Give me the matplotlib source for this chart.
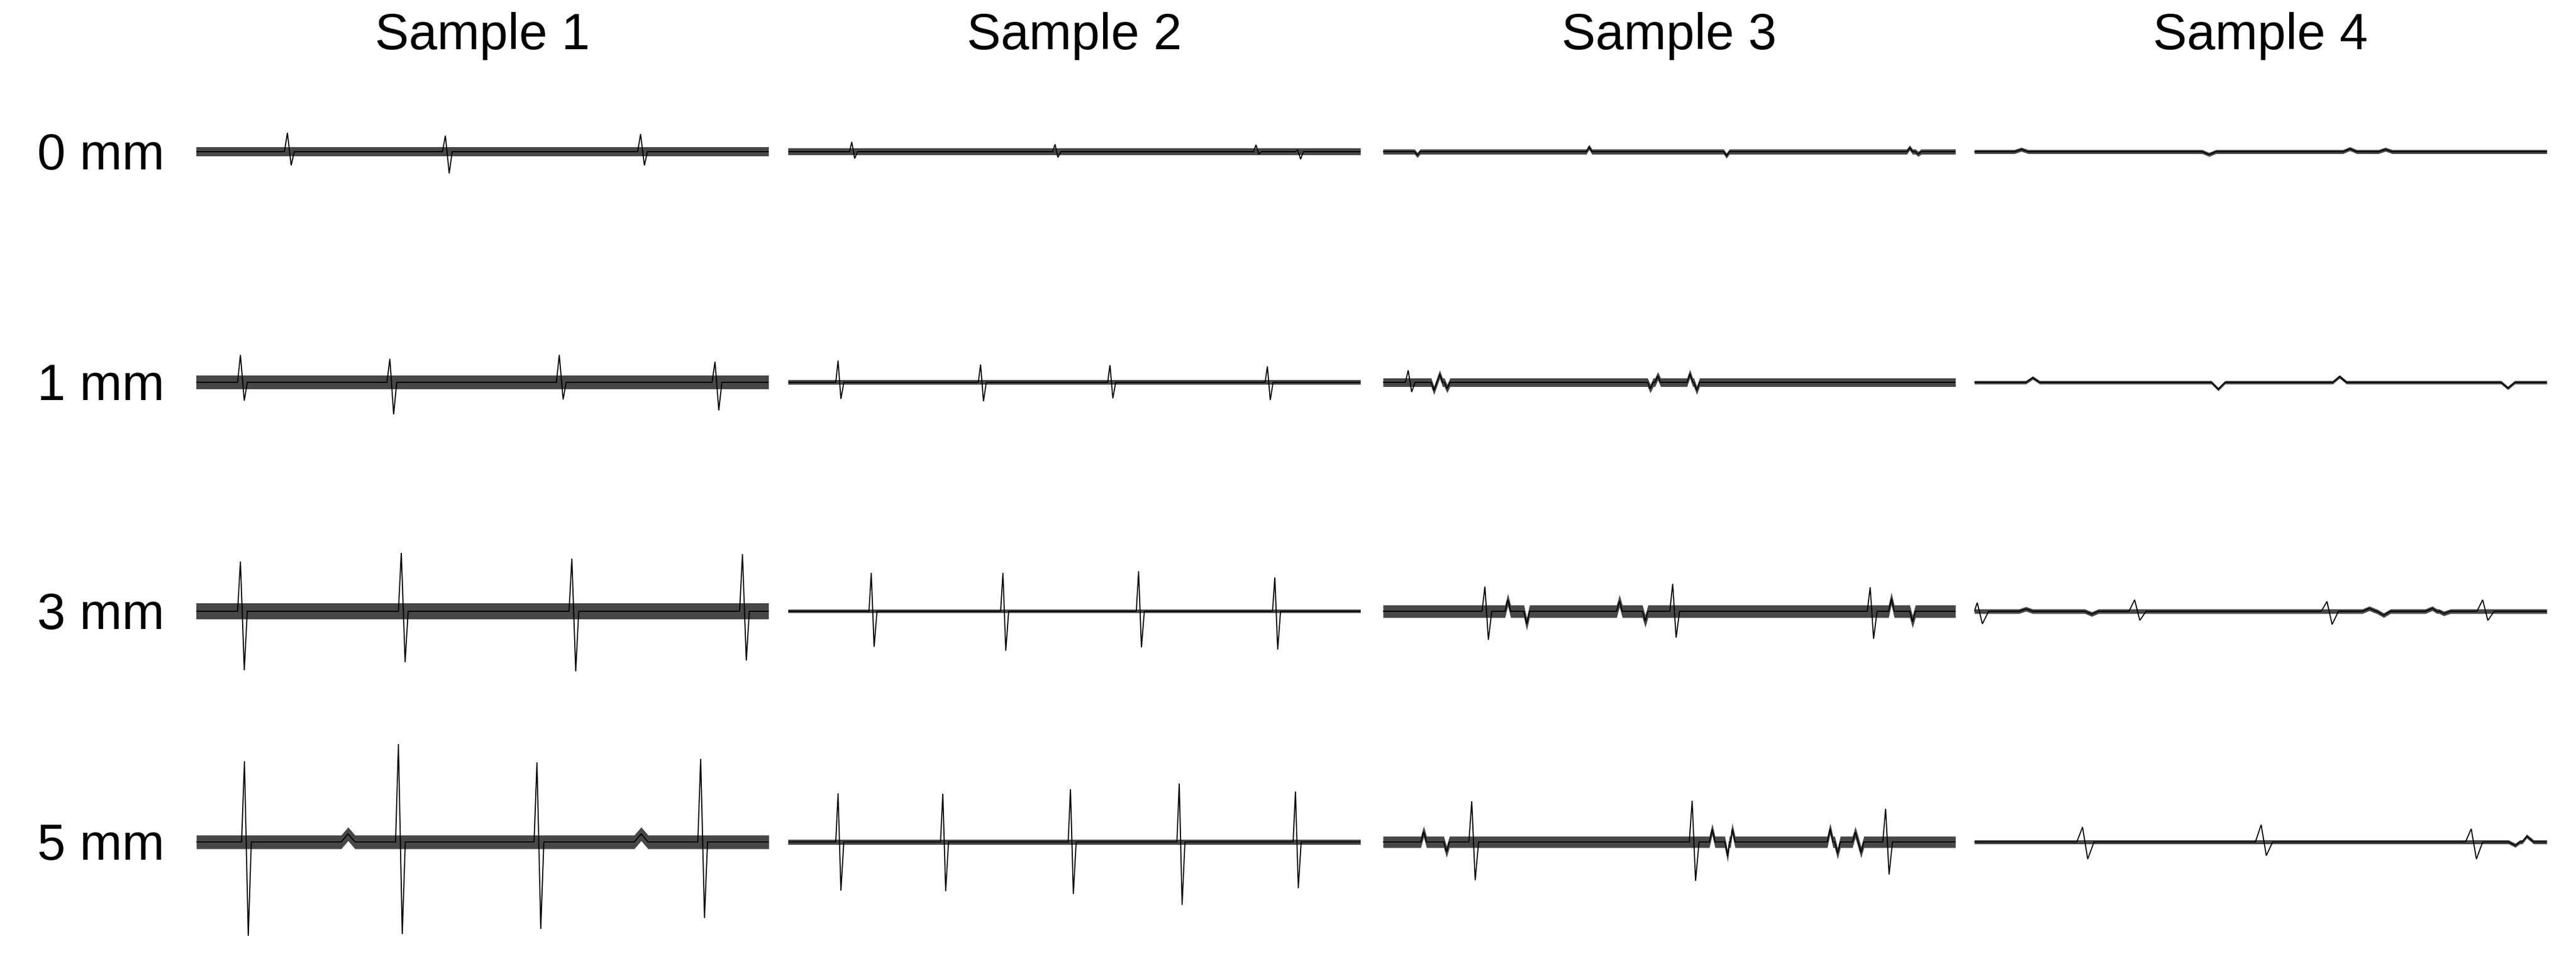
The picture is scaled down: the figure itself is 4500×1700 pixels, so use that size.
import matplotlib
matplotlib.use("Agg")
import matplotlib.pyplot as plt

plt.rcParams['font.family'] = ['Liberation Sans', 'DejaVu Sans']

# ---------------- data (time in s over a 10 s window, amplitude in a.u.) ----------------
samples = ["Sample 1", "Sample 2", "Sample 3", "Sample 4"]
depths = ["0 mm", "1 mm", "3 mm", "5 mm"]

# biphasic spikes: time, positive peak, negative peak (one list per sample)
spike_t_0mm = [[1.59, 4.35, 7.76], [1.11, 4.66, 8.17, 8.90], [], []]
spike_up_0mm = [[33, 28, 31], [17, 13, 12, 3], [], []]
spike_dn_0mm = [[24, 38, 24], [12, 10, 4, 13], [], []]
wave_t_0mm = [[], [], [0.60, 3.60, 6.00, 9.20, 9.35], [0.82, 4.10, 6.56, 7.18]]
wave_v_0mm = [[], [], [-6, 8, -7, 7, -4], [4, -5, 5, 4]]
noise_0mm = [8, 6, 4.5, 3.5]

spike_t_1mm = [[0.77, 3.38, 6.34, 9.06], [0.87, 3.36, 5.62, 8.37], [0.44], []]
spike_up_1mm = [[48, 41, 48, 36], [38, 31, 30, 28], [21], []]
spike_dn_1mm = [[32, 56, 30, 49], [29, 33, 28, 31], [17], []]
wave_t_1mm = [[], [], [0.89, 0.99, 1.12, 4.67, 4.80, 5.36, 5.48], [1.02, 4.26, 6.38, 9.32]]
wave_v_1mm = [[], [], [-14, 14, -11, -11, 11, 15, -14], [8, -12, 10, -10]]
noise_1mm = [12, 4, 7.5, 3]

spike_t_3mm = [[0.77, 3.58, 6.56, 9.54], [1.45, 3.75, 6.12, 8.50], [1.78, 5.06, 8.51], [0.05, 2.80, 6.16, 8.88]]
spike_up_3mm = [[87, 102, 92, 100], [67, 67, 70, 59], [43, 48, 42], [15, 20, 17, 20]]
spike_dn_3mm = [[103, 89, 105, 86], [62, 69, 63, 67], [50, 46, 48], [22, 16, 23, 16]]
wave_t_3mm = [[], [], [2.18, 2.51, 4.13, 4.58, 8.88, 9.25], [0.90, 2.05, 6.90, 7.15, 8.00, 8.20]]
wave_v_3mm = [[], [], [20, -22, 18, -17, 22, -18], [4, -5, 5, -7, 5, -4]]
noise_3mm = [14, 3, 11, 4]

spike_t_5mm = [[0.84, 3.53, 5.95, 8.81], [0.87, 2.70, 4.93, 6.83, 8.86], [1.55, 5.40, 8.78], [1.89, 5.01, 8.68]]
spike_up_5mm = [[141, 171, 139, 145], [85, 84, 92, 102, 88], [71, 72, 58], [26, 30, 23]]
spike_dn_5mm = [[164, 161, 152, 133], [85, 86, 91, 110, 81], [67, 68, 57], [30, 24, 30]]
wave_t_5mm = [[2.65, 7.77], [], [0.71, 1.11, 5.75, 6.02, 6.10, 7.81, 7.94, 8.25, 8.35], [9.45, 9.65]]
wave_v_5mm = [[14, 14], [], [18, -17, 22, -25, 23, 23, -20, 17, -18], [-6, 10]]
noise_5mm = [12, 4.5, 10, 3.5]

rows = [
    (spike_t_0mm, spike_up_0mm, spike_dn_0mm, wave_t_0mm, wave_v_0mm, noise_0mm),
    (spike_t_1mm, spike_up_1mm, spike_dn_1mm, wave_t_1mm, wave_v_1mm, noise_1mm),
    (spike_t_3mm, spike_up_3mm, spike_dn_3mm, wave_t_3mm, wave_v_3mm, noise_3mm),
    (spike_t_5mm, spike_up_5mm, spike_dn_5mm, wave_t_5mm, wave_v_5mm, noise_5mm),
]

# ---------------- layout / style ----------------
W, H = 4500, 1700
fig = plt.figure(figsize=(45, 17), dpi=100)
col_left = [343, 1377, 2416, 3449]
col_w = 1000
row_base = [265, 668, 1068, 1471]
half_h = 200
# spike shape offsets (s) per sample: rise, to-negative, return
spike_shape = [(0.05, 0.067, 0.12), (0.04, 0.05, 0.10), (0.05, 0.06, 0.12), (0.10, 0.09, 0.20)]
wave_w = [0.12, 0.10, 0.05, 0.12]

for r, (st, su, sd, wt, wv, nz) in enumerate(rows):
    for c in range(4):
        ax = fig.add_axes([col_left[c] / W, (H - row_base[r] - half_h) / H,
                           col_w / W, 2 * half_h / H])
        ax.set_xlim(0, 10)
        ax.set_ylim(-half_h, half_h)
        ax.axis('off')
        a, b, e = spike_shape[c]
        ww = wave_w[c]
        # slow waves (baseline)
        wpts = [(0.0, 0.0), (10.0, 0.0)]
        for t, v in zip(wt[c], wv[c]):
            wpts += [(t - ww, 0.0), (t, v), (t + ww, 0.0)]
        wpts.sort(key=lambda p: p[0])
        bx = [p[0] for p in wpts]
        by = [p[1] for p in wpts]
        ax.fill_between(bx, [y - nz[c] for y in by], [y + nz[c] for y in by],
                        color='0.28', lw=0, zorder=1)
        pts = list(wpts)
        for t, u, d in zip(st[c], su[c], sd[c]):
            pts += [(t - a, 0.0), (t, u), (t + b, -d), (t + e, 0.0)]
        pts.sort(key=lambda p: p[0])
        ax.plot([p[0] for p in pts], [p[1] for p in pts], color='black',
                lw=1.4, zorder=2, solid_joinstyle='miter')

for c, name in enumerate(samples):
    fig.text((col_left[c] + col_w / 2) / W, 1 - 86 / H, name, ha='center',
             va='baseline', fontsize=64)
for r, name in enumerate(depths):
    fig.text(287 / W, 1 - (row_base[r] + 31) / H, name, ha='right',
             va='baseline', fontsize=64)

fig.savefig("out.png", dpi=100, facecolor='white')
